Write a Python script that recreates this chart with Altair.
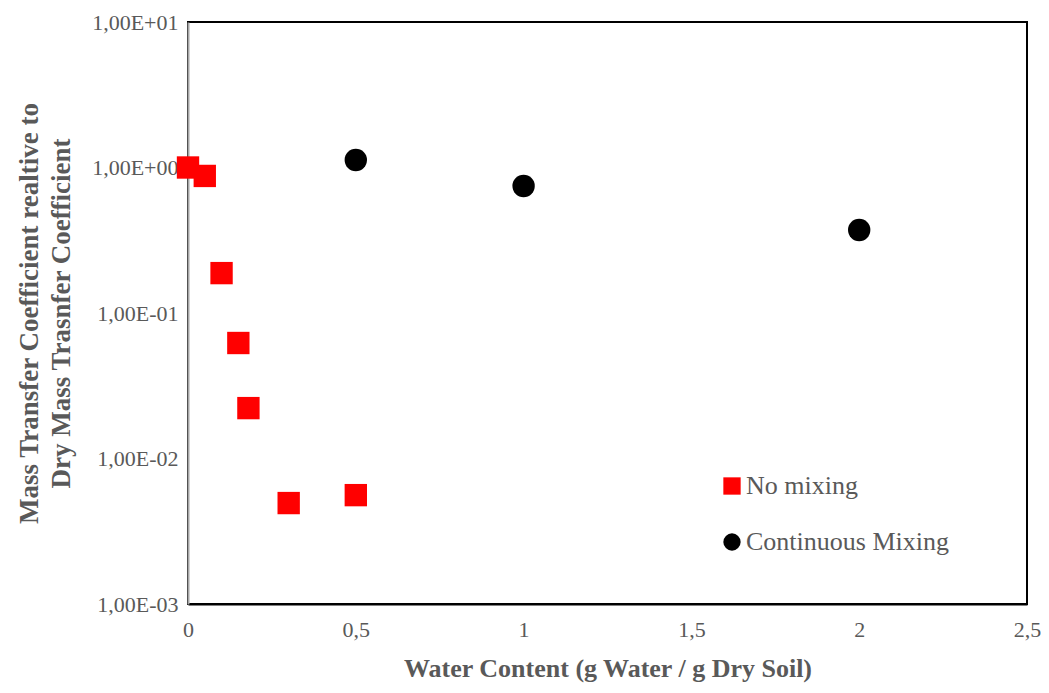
import altair as alt
import pandas as pd

series_names = ["No mixing", "Continuous Mixing"]
nomix_x = [0.0, 0.05, 0.10, 0.15, 0.18, 0.30, 0.50]
nomix_y = [1.0, 0.875, 0.188, 0.0622, 0.0222, 0.00494, 0.0056]
mix_x = [0.5, 1.0, 2.0]
mix_y = [1.126, 0.746, 0.372]

rows = []
for x, y in zip(nomix_x, nomix_y):
    rows.append({"x": x, "y": y, "series": series_names[0]})
for x, y in zip(mix_x, mix_y):
    rows.append({"x": x, "y": y, "series": series_names[1]})
df = pd.DataFrame(rows)

FONT = "Liberation Serif"
GRAY = "#595959"

chart = alt.Chart(df).mark_point(filled=True, opacity=1, size=500).encode(
    x=alt.X("x:Q",
            scale=alt.Scale(domain=[0, 2.5], nice=False, zero=False, padding=0),
            axis=alt.Axis(values=[0, 0.5, 1, 1.5, 2, 2.5], grid=False, ticks=False,
                          labelExpr="replace(toString(datum.value), '.', ',')",
                          labelFont=FONT, labelFontSize=22, labelColor=GRAY,
                          labelPadding=15, domainColor="black", domainWidth=2,
                          labelFlush=False, labelOverlap=False,
                          title="Water Content (g Water / g Dry Soil)",
                          titleFont=FONT, titleFontSize=26, titleFontWeight="bold",
                          titleColor=GRAY, titlePadding=15)),
    y=alt.Y("y:Q",
            scale=alt.Scale(type="log", domain=[0.001, 10], nice=False, padding=0),
            axis=alt.Axis(values=[0.001, 0.01, 0.1, 1, 10], grid=False, ticks=False,
                          labelExpr="'1,00E' + (datum.value >= 1 ? '+' : '-') + '0' + abs(round(log(datum.value)/LN10))",
                          labelFont=FONT, labelFontSize=22, labelColor=GRAY,
                          labelPadding=10, domainColor="#a6a6a6", domainWidth=2,
                          labelFlush=False, labelOverlap=False,
                          title=["Mass Transfer Coefficient realtive to", "Dry Mass Trasnfer Coefficient"],
                          titleFont=FONT, titleFontSize=27, titleFontWeight="bold",
                          titleColor=GRAY, titlePadding=16, titleLineHeight=32)),
    color=alt.Color("series:N",
                    scale=alt.Scale(domain=series_names, range=["#ff0000", "#000000"]),
                    legend=alt.Legend(title=None, orient="none", legendX=531, legendY=451,
                                      labelFont=FONT, labelFontSize=26, labelColor=GRAY,
                                      symbolSize=300, rowPadding=30, labelOffset=1,
                                      labelLimit=0, symbolStrokeWidth=0)),
    shape=alt.Shape("series:N",
                    scale=alt.Scale(domain=series_names, range=["square", "circle"])),
).properties(
    width=839, height=582,
    background="white",
    autosize=alt.AutoSizeParams(type="none"),
    padding={"left": 180, "top": 14, "right": 14, "bottom": 80},
).configure_view(
    stroke="black", strokeWidth=2
)

chart.save("out.html", embed_options={"renderer": "svg", "actions": False})
